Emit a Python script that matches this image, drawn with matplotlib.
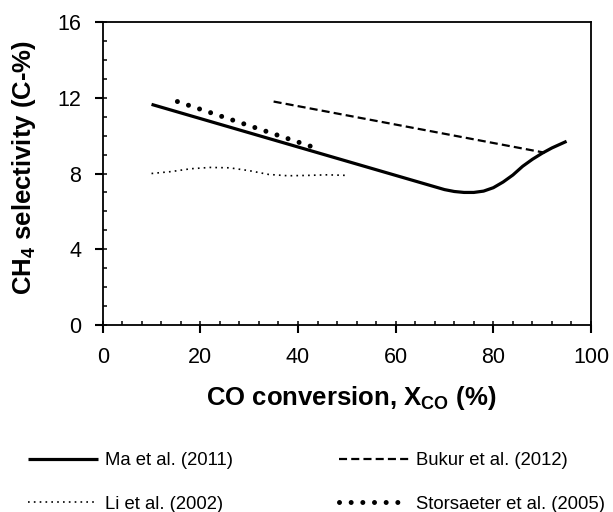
import matplotlib
matplotlib.use("Agg")
import matplotlib.pyplot as plt
from matplotlib.ticker import MultipleLocator

plt.rcParams['font.family'] = ['Liberation Sans', 'DejaVu Sans']
plt.rcParams['lines.scale_dashes'] = False

# CH4 selectivity vs CO conversion for four literature studies
ma_x = [10, 20, 30, 40, 50, 60, 66, 70, 72, 74, 76, 78, 80, 82, 84, 86, 88, 90, 92, 95]
ma_y = [11.65, 10.9, 10.15, 9.4, 8.65, 7.9, 7.45, 7.15, 7.05, 7.0, 7.0, 7.07, 7.25,
        7.55, 7.92, 8.38, 8.75, 9.07, 9.35, 9.7]

bukur_x = [35, 90.5]
bukur_y = [11.8, 9.1]

li_x = [10, 14, 18, 22, 26, 30, 34, 38, 42, 46, 50]
li_y = [8.0, 8.1, 8.25, 8.32, 8.3, 8.15, 7.95, 7.88, 7.9, 7.93, 7.9]

stors_x = [15.3, 43.6]
stors_y = [11.8, 9.35]

labels = ["Ma et al. (2011)", "Li et al. (2002)", "Bukur et al. (2012)", "Storsaeter et al. (2005)"]
x_ticks = [0, 20, 40, 60, 80, 100]
y_ticks = [0, 4, 8, 12, 16]

fig = plt.figure(figsize=(6.13, 5.12), dpi=100)
W, H = 613, 512
ax = fig.add_axes([102.7 / W, 1 - 325 / H, (591 - 102.7) / W, (325 - 22) / H])

l_ma, = ax.plot(ma_x, ma_y, color='black', lw=2.3, solid_capstyle='butt')
l_li, = ax.plot(li_x, li_y, color='black', lw=1.2, dashes=(1.2, 3.0))
l_bu, = ax.plot(bukur_x, bukur_y, color='black', lw=1.6, dashes=(5.8, 3.0))
l_st, = ax.plot(stors_x, stors_y, color='black', lw=3.6, dashes=(0.001, 8.4),
                dash_capstyle='round')

ax.set_xlim(0, 100)
ax.set_ylim(0, 16)
ax.set_xticks(x_ticks)
ax.set_yticks(y_ticks)
ax.xaxis.set_minor_locator(MultipleLocator(4))
ax.yaxis.set_minor_locator(MultipleLocator(1))
ax.xaxis.remove_overlapping_locs = False
ax.yaxis.remove_overlapping_locs = False

for s in ax.spines.values():
    s.set_linewidth(1.3)
ax.tick_params(which='major', direction='out', length=5.8, width=1.5,
               labelsize=15.5, pad=10, top=False, right=False)
ax.tick_params(which='minor', direction='in', length=3.2, width=1.1,
               top=False, right=False)
ax.tick_params(axis='y', which='major', pad=9.5)

ax.set_xlabel("CO conversion, X$_{\\mathregular{CO}}$ (%)", fontsize=18.5,
              fontweight='bold')
ax.set_ylabel("CH$_{\\mathregular{4}}$ selectivity (C-%)", fontsize=18.5,
              fontweight='bold')
ax.xaxis.set_label_coords(0.5095, -0.195)
ax.yaxis.set_label_coords(-0.132, 0.52)

fig.legend([l_ma, l_li, l_bu, l_st], labels, ncol=2, frameon=False,
           fontsize=13.3, loc='center left', bbox_to_anchor=(11.4 / W, 1 - 482.5 / H),
           handlelength=3.8, handletextpad=0.38, labelspacing=1.43,
           columnspacing=5.7)

fig.savefig("out.png", dpi=100)
